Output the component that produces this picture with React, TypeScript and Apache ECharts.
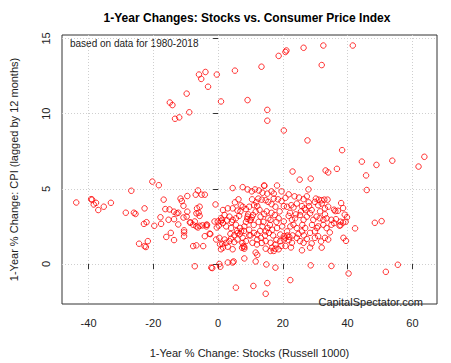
import React, { useEffect, useRef } from "react";
import * as echarts from "echarts";

// 1-year % change, stocks (Russell 1000)
const stocks: number[] = [
  // upper group
  -14.9, -14.1, -9.7, -5.9, -5.2, -3.9, -3.1, -0.4, 0.9, 5.2, -13.3, -12.0, -8.9, 13.4, 9.1, 15.2, 15.2, 18.7, 20.8, 21.1, 26.4, 32.5, 41.6, 32.0,
  20.3, 27.6, 38.3, 44.4, 48.9, 53.8, 61.9, 63.7, 23.0, 33.2, 34.0, 36.7, 45.7,
  // right side
  45.9, 38.0, 38.6, 35.8, 36.2, 37.0, 39.1, 39.8, 36.4, 35.0, 35.8, 37.8, 38.6, 39.4, 37.5, 37.8, 42.3, 48.4, 50.5, 38.7, 39.5, 35.0, 40.3, 51.8, 55.5,
  // low
  12.1, 11.6, 8.1, 14.9, 17.7, 28.6, 22.3, 10.9, 15.2, 14.7, 25.9, 32.0, 28.4, 5.5, 3.0, 4.5, 8.1,
  // band near 5
  14.2, 14.3, 18.2, 4.5, 25.2, 28.6, 27.9,
  7.6, 9.1, 10.4, 11.4, 12.6, 13.7, 15.2, 16.5, 17.2, 19.6, 21.8, 23.6, 25.0, 26.4, 27.4, 30.2, 31.1, 32.0, 32.8, 33.8,
  // row near 3.8
  1.5, 3.0, 4.5, 6.0, 7.6, 8.6, 9.6, 11.1, 12.1, 12.4, 13.5, 14.7, 15.5, 16.5, 17.2, 17.7, 19.6, 20.3, 21.3, 22.6, 23.3, 24.3, 25.9, 26.7, 28.1, 28.9, 29.9, 30.9, 32.0, 33.0, 34.0,
  // row near 3
  2.0, 3.5, 4.5, 5.5, 6.5, 9.1, 10.1, 10.8, 11.6, 13.1, 14.2, 15.5, 16.2, 17.5, 18.7, 20.3, 21.8, 22.8, 23.8, 25.3, 26.4, 27.4, 28.4, 29.4, 30.4, 31.4, 32.5, 33.5,
  // row near 2.3
  1.5, 2.5, 4.0, 5.5, 7.1, 8.1, 9.6, 11.1, 12.1, 13.7, 14.7, 15.7, 16.7, 18.2, 19.2, 20.3, 21.3, 22.3, 23.3, 24.3, 25.9, 26.9, 28.4, 29.9, 30.9, 32.5, 33.5, 35.0,
  // row near 1.6
  2.0, 3.5, 5.0, 6.0, 7.6, 8.6, 10.6, 12.1, 13.2, 14.7, 16.2, 16.7, 17.7, 19.2, 20.3, 20.8, 21.8, 22.8, 24.3, 25.3, 26.4, 27.4, 28.9, 29.9, 30.9, 33.0, 34.0,
  // row near 1
  1.5, 3.0, 4.5, 8.1, 11.6, 14.7, 16.2, 17.2, 17.7, 18.7, 20.8,
  // left side
  -43.8, -39.2, -38.9, -37.7, -38.4, -37.0, -35.3, -33.1, -28.5, -26.0, -25.5, -26.8, -22.7, -22.9, -22.1, -19.7, -17.8, -17.6, -21.7, -24.4, -22.7, -22.3,
  -20.3, -18.3, -16.8, -16.3, -15.0, -13.6, -12.3, -11.6, -11.2, -10.7, -9.5, -9.5, -9.7, -13.6, -12.3, -10.7, -8.7, -7.2, -6.2, -5.7, -4.8, -3.6, -3.4,
  -14.6, -16.0, -13.6, -10.5, -10.5, -7.7, -6.7, -7.2, -6.2, -6.9, -5.1, -4.1, -6.5, -6.0, -5.7, -4.6, -4.1, -2.6, -2.1, -0.8, -0.4, -0.6, 0.4, -0.1,
  0.9, 0.9, 1.2, 0.6, 0.9, 0.4, 0.7,
  -6.7, -5.7, -8.5, -7.7, -6.7, -3.6, -1.1, 0.2, -12.8, -15.3,
  1.3, 2.5, 4.0, 5.0, 6.0, 6.7, 7.4, 7.8, 9.6, -1.8, 4.8, -10.5, -2.4,
  // dense core
  21.4, 22.0, 9.0, 9.8, 10.4, 8.6, 9.3,
  5.2, 6.3, 7.0, 12.8, 14.0, 15.0, 16.0, 17.0, 18.0, 19.0, 12.5, 13.5, 11.0, 6.8, 3.8, 2.8, 7.5, 10.0, 12.0,
  24.0, 26.0, 27.0, 29.0, 31.5, 33.0, 34.5, 23.0, 24.8, 19.8, 16.5, 15.3, 14.5, 13.0, 8.0, 5.8, 4.2, 6.9, 11.8, 10.5,
  18.5, 20.8, 22.2, 25.6, 28.0, 30.5, 31.8, 26.5, 22.5, 19.5, 18.0,
];

// 1-year % change, CPI lagged by 12 months
const cpi: number[] = [
  10.74, 10.57, 11.33, 12.6, 12.31, 12.77, 11.79, 12.6, 10.81, 12.86, 9.66, 9.75, 10.09, 13.12, 10.9, 10.25, 9.53, 13.84, 14.1, 14.2, 14.38, 14.53, 14.53, 13.23,
  8.88, 8.22, 7.57, 6.81, 6.59, 6.87, 6.48, 7.13, 6.15, 6.22, 6.09, 6.33, 5.89,
  4.92, 4.05, 3.72, 3.61, 3.52, 3.54, 3.28, 3.11, 2.98, 2.94, 2.72, 2.81, 2.76, 2.81, 2.55, 2.58, 2.37, 2.74, 2.85, 1.74, 1.54, -0.13, -0.63, -0.52, -0.05,
  0.61, 0.17, 1.13, -0.03, -0.24, -0.09, -1.07, -1.46, -1.27, -1.98, 0.91, 1.09, 1.09, -1.57, 0.1, 0.1, 0.37,
  5.22, 5.2, 5.22, 5.05, 5.61, 5.68, 4.96,
  5.11, 4.96, 4.83, 4.96, 4.89, 4.74, 4.68, 4.83, 4.68, 4.83, 4.63, 4.5, 4.42, 4.31, 4.5, 4.35, 4.28, 4.24, 4.28, 4.28,
  3.59, 3.7, 3.7, 3.55, 3.81, 3.65, 3.81, 3.91, 3.85, 4.35, 4.28, 4.24, 4.13, 3.98, 4.35, 3.81, 4.18, 3.85, 3.81, 3.91, 3.76, 4.02, 3.85, 3.7, 3.85, 3.59, 4.13, 3.91, 4.02, 3.7, 3.81,
  3.26, 3.15, 2.94, 3.04, 3.2, 3.15, 2.94, 3.26, 3.48, 3.15, 3.33, 3.04, 2.94, 3.26, 3.04, 2.83, 3.2, 2.94, 3.04, 3.26, 2.94, 3.15, 3.37, 2.94, 3.15, 3.04, 2.94, 3.04,
  2.72, 2.5, 2.39, 2.61, 2.17, 2.5, 2.28, 2.07, 1.96, 2.5, 2.17, 2.07, 2.28, 2.39, 1.96, 1.85, 2.17, 2.5, 2.61, 2.39, 2.17, 2.39, 2.07, 2.17, 2.5, 2.61, 2.39, 2.61,
  1.63, 1.52, 1.46, 1.63, 1.74, 1.52, 1.41, 1.63, 1.74, 1.52, 1.41, 1.09, 1.3, 1.52, 1.63, 1.74, 1.59, 1.41, 1.74, 1.52, 1.41, 1.67, 1.37, 1.74, 1.85, 1.74, 1.63,
  1.09, 1.15, 0.98, 1.02, 0.76, 1.02, 0.87, 0.87, 1.02, 0.98, 1.2,
  4.09, 4.31, 4.28, 4.07, 3.96, 3.59, 3.81, 4.07, 3.41, 3.41, 3.33, 4.87, 3.7, 2.67, 2.78, 2.54, 3.11, 2.67, 1.52, 1.35, 1.19, 1.13,
  5.48, 5.24, 4.28, 3.65, 3.63, 3.48, 3.41, 4.35, 4.18, 3.87, 4.52, 3.48, 3.15, 2.98, 2.63, 3.09, 2.76, 2.83, 2.43, 2.54, 2.57, 2.5, 2.61,
  2.07, 1.8, 1.59, 2.24, 1.85, 1.19, 1.24, -0.15, 4.89, 4.61, 4.61, 4.61, 3.7, 3.41, 3.81, 1.19, 1.85, 2.02, -0.24, 3.96, 2.43, 1.63, 1.74, 2.83,
  2.83, 3.04, 2.94, 1.3, 0.98, 0.0, -0.18,
  3.37, 3.2, 2.76, 2.61, 2.5, 2.61, 2.83, 2.55, 3.37, 2.94,
  1.34, 1.41, 1.69, 1.91, 2.06, 1.99, 1.08, 1.19, 1.91, -0.27, 0.17, 2.1, 1.99,
  1.9, 1.8, 3.0, 2.9, 3.1, 2.8, 3.3,
  4.1, 4.3, 3.9, 3.6, 2.8, 3.5, 2.6, 1.9, 2.8, 3.5, 2.8, 1.4, 2.6, 2.4, 2.0, 2.9, 1.4, 1.9, 1.3,
  3.3, 2.6, 3.6, 2.6, 3.5, 3.3, 2.1, 1.9, 2.0, 2.5, 3.4, 2.4, 1.9, 2.2, 2.2, 2.2, 2.8, 3.5, 4.1, 4.3,
  4.3, 4.4, 3.4, 3.5, 4.1, 2.4, 1.5, 1.9, 1.1, 1.2, 1.6,
];

const xTicks: number[] = [-40, -20, 0, 20, 40, 60];
const yTicks: number[] = [0, 5, 10, 15];

const titleText = "1-Year Changes: Stocks vs. Consumer Price Index";
const noteText = "based on data for 1980-2018";
const creditText = "CapitalSpectator.com";
const xName = "1-Year % Change: Stocks (Russell 1000)";
const yName = "1-Year % Change: CPI (lagged by 12 months)";

const FONT = "'Liberation Sans', Arial, sans-serif";

export default function App() {
  const ref = useRef<HTMLDivElement>(null);

  useEffect(() => {
    document.body.style.margin = "0";
    if (!ref.current) return;
    const chart = echarts.init(ref.current, null, { renderer: "svg" });
    const n = Math.min(stocks.length, cpi.length);
    const points: number[][] = [];
    for (let i = 0; i < n; i++) points.push([stocks[i], cpi[i]]);

    const axisText = { color: "#222", fontSize: 11, fontFamily: FONT };

    chart.setOption({
      animation: false,
      backgroundColor: "#ffffff",
      grid: {
        left: 57,
        right: 14,
        top: 35,
        bottom: 54,
        show: true,
        borderColor: "#333",
        borderWidth: 1,
        backgroundColor: "transparent",
      },
      xAxis: {
        type: "value",
        min: -48.2,
        max: 67.6,
        name: xName,
        nameLocation: "middle",
        nameGap: 43,
        nameTextStyle: { ...axisText },
        axisLine: { show: false },
        axisTick: { show: true, inside: false, length: 5, customValues: xTicks, lineStyle: { color: "#333" } },
        axisLabel: { ...axisText, margin: 13, customValues: xTicks },
        splitLine: { show: true, lineStyle: { color: "#cfcfcf", type: [1, 2], width: 1 } },
      },
      yAxis: {
        type: "value",
        min: -2.66,
        max: 15.23,
        name: yName,
        nameLocation: "middle",
        nameGap: 43,
        nameRotate: 90,
        nameTextStyle: { ...axisText },
        axisLine: { show: false },
        axisTick: { show: true, inside: false, length: 5, customValues: yTicks, lineStyle: { color: "#333" } },
        axisLabel: { ...axisText, margin: 11, rotate: 90, customValues: yTicks },
        splitLine: { show: true, lineStyle: { color: "#cfcfcf", type: [1, 2], width: 1 } },
      },
      series: [
        {
          type: "scatter",
          data: points,
          symbol: "circle",
          symbolSize: 5.5,
          itemStyle: { color: "rgba(255,255,255,0)", borderColor: "#ff0000", borderWidth: 1 },
          emphasis: { disabled: true },
        },
      ],
      graphic: [
        {
          type: "text",
          x: 247,
          y: 18,
          style: { text: titleText, fill: "#000", font: `bold 12px ${FONT}`, align: "center", verticalAlign: "middle" },
        },
        {
          type: "text",
          x: 70,
          y: 43,
          style: { text: noteText, fill: "#222", font: `10px ${FONT}`, align: "left", verticalAlign: "middle" },
        },
        {
          type: "text",
          x: 423,
          y: 302,
          style: { text: creditText, fill: "#222", font: `11px ${FONT}`, align: "right", verticalAlign: "middle" },
        },
      ],
    });
    return () => chart.dispose();
  }, []);

  return <div ref={ref} style={{ width: 451, height: 363 }} />;
}
